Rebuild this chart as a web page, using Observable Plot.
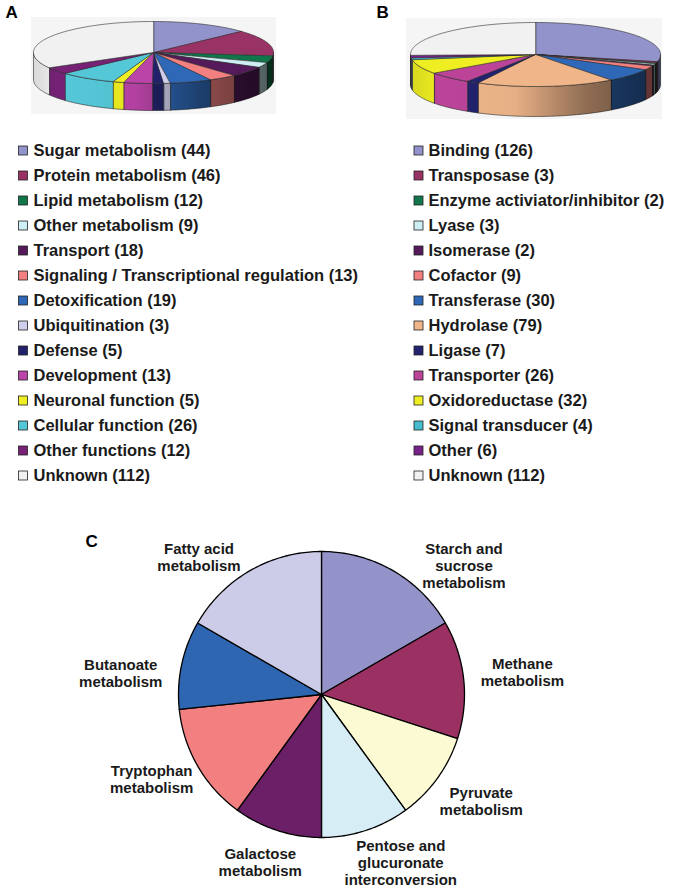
<!DOCTYPE html>
<html><head><meta charset="utf-8">
<script src="https://cdn.jsdelivr.net/npm/d3@7"></script>
<script src="https://cdn.jsdelivr.net/npm/@observablehq/plot@0.6"></script>
<style>body{margin:0;background:#fff;}</style>
</head><body><div id="chart"></div>
<script>
// ---------- DATA ----------
const catsA = ["Sugar metabolism","Protein metabolism","Lipid metabolism","Other metabolism","Transport","Signaling / Transcriptional regulation","Detoxification","Ubiquitination","Defense","Development","Neuronal function","Cellular function","Other functions","Unknown"];
const valsA = [44,46,12,9,18,13,19,3,5,13,5,26,12,112];
const catsB = ["Binding","Transposase","Enzyme activiator/inhibitor","Lyase","Isomerase","Cofactor","Transferase","Hydrolase","Ligase","Transporter","Oxidoreductase","Signal transducer","Other","Unknown"];
const valsB = [126,3,2,3,2,9,30,79,7,26,32,4,6,112];
const catsC = ["Starch and\nsucrose\nmetabolism","Methane\nmetabolism","Pyruvate\nmetabolism","Pentose and\nglucuronate\ninterconversion","Galactose\nmetabolism","Tryptophan\nmetabolism","Butanoate\nmetabolism","Fatty acid\nmetabolism"];
const valsC = [5,4,3,3,3,4,3,5];

// ---------- STYLE ----------
const colorsA = ["#9393cc","#993366","#11774a","#cdeef2","#551a5a","#f38080","#2f68b6","#cfcfec","#22226a","#bb44a8","#eeee22","#55c8d8","#772277","#f1f1f1"];
const colorsB = ["#9393cc","#993366","#11774a","#cdeef2","#551a5a","#f38080","#2f68b6","#f0b68a","#22226e","#bb4499","#eeee22","#44bccc","#772288","#f1f1f1"];
const colorsC = ["#9393c9","#9b3163","#fbfad2","#d7edf6","#6a1f66","#f28080","#2e66b1","#cdcce8"];

const W = 674, H = 889;
const pieA = {cx:153, cy:52, rx:120, ry:31, depth:27, bg:[31,17,276,114]};
const pieB = {cx:535, cy:54, rx:125, ry:32, depth:30, bg:[406,18,662,119]};
const pieC = {cx:321, cy:694, r:143};
const legendA = {sx:18.5, tx:33, y0:150.5, dy:25};
const legendB = {sx:414, tx:428, y0:150.5, dy:25};
const labelDistC = 195;
const labelNudgeC = [[45,40],[7,-2],[2,-8],[19,-17],[-1,-18],[-1,-13],[-10,19],[-25,31]];
const FONT = "Liberation Sans, Arial, Helvetica, sans-serif";

// ---------- GEOMETRY ----------
const pie = d3.pie().sort(null).value(d => d);
function arcPts(cx, cy, rx, ry, a0, a1, off = 0) {
  const n = Math.max(2, Math.ceil((a1 - a0) * 180 / Math.PI) + 1);
  const p = [];
  for (let k = 0; k < n; k++) {
    const a = a0 + (a1 - a0) * k / (n - 1);
    p.push([cx + rx * Math.sin(a), cy - ry * Math.cos(a) + off]);
  }
  return p;
}
function pie3d(key, vals, colors, g) {
  const arcs = pie(vals);
  const tops = [], sides = [], band = [];
  arcs.forEach((a, i) => {
    const id = key + i;
    tops.push({id, x: g.cx, y: g.cy, c: colors[i]});
    arcPts(g.cx, g.cy, g.rx, g.ry, a.startAngle, a.endAngle).forEach(([x, y]) => tops.push({id, x, y, c: colors[i]}));
    const s0 = Math.max(a.startAngle, Math.PI / 2), s1 = Math.min(a.endAngle, 3 * Math.PI / 2);
    if (s1 > s0) {
      const up = arcPts(g.cx, g.cy, g.rx, g.ry, s0, s1);
      const dn = arcPts(g.cx, g.cy, g.rx, g.ry, s0, s1, g.depth).reverse();
      [...up, ...dn].forEach(([x, y]) => sides.push({id, x, y, c: colors[i]}));
    }
  });
  const up = arcPts(g.cx, g.cy, g.rx, g.ry, Math.PI / 2, 3 * Math.PI / 2);
  const dn = arcPts(g.cx, g.cy, g.rx, g.ry, Math.PI / 2, 3 * Math.PI / 2, g.depth).reverse();
  [...up, ...dn].forEach(([x, y]) => band.push({id: key, x, y}));
  return {tops, sides, band};
}
const A3 = pie3d("A", valsA, colorsA, pieA);
const B3 = pie3d("B", valsB, colorsB, pieB);

const arcsC = pie(valsC);
const polyC = [];
const labC = [];
arcsC.forEach((a, i) => {
  const id = "C" + i;
  polyC.push({id, x: pieC.cx, y: pieC.cy, c: colorsC[i]});
  arcPts(pieC.cx, pieC.cy, pieC.r, pieC.r, a.startAngle, a.endAngle).forEach(([x, y]) => polyC.push({id, x, y, c: colorsC[i]}));
  const m = (a.startAngle + a.endAngle) / 2;
  labC.push({t: catsC[i], x: pieC.cx + labelDistC * Math.sin(m) + labelNudgeC[i][0], y: pieC.cy - labelDistC * Math.cos(m) + labelNudgeC[i][1]});
});

const legA = catsA.map((n, i) => ({t: `${n} (${valsA[i]})`, c: colorsA[i], y: legendA.y0 + i * legendA.dy}));
const legB = catsB.map((n, i) => ({t: `${n} (${valsB[i]})`, c: colorsB[i], y: legendB.y0 + i * legendB.dy}));
const bgs = [pieA.bg, pieB.bg].map(b => ({x1: b[0], y1: b[1], x2: b[2], y2: b[3]}));
const letters = [{t: "A", x: 5, y: 12.5}, {t: "B", x: 376, y: 12.5}, {t: "C", x: 85, y: 541.5}];

const poly = (data, opts) => Plot.line(data, {x: "x", y: "y", z: "id", curve: "linear-closed", ...opts});

const chart = Plot.plot({
  width: W, height: H, margin: 0,
  x: {domain: [0, W], range: [0, W], axis: null},
  y: {domain: [0, H], range: [0, H], axis: null},
  color: {type: "identity"},
  style: {background: "#fff", fontFamily: FONT},
  marks: [
    Plot.rect(bgs, {x1: "x1", x2: "x2", y1: "y1", y2: "y2", fill: "#f5f5f5"}),
    poly(A3.sides, {fill: "c", stroke: "#2a2a2a", strokeWidth: 0.6}),
    poly(B3.sides, {fill: "c", stroke: "#2a2a2a", strokeWidth: 0.6}),
    poly(A3.band, {fill: "url(#sideShade)", stroke: "none"}),
    poly(B3.band, {fill: "url(#sideShade)", stroke: "none"}),
    poly(A3.tops, {fill: "c", stroke: "#2a2a2a", strokeWidth: 0.6}),
    poly(B3.tops, {fill: "c", stroke: "#2a2a2a", strokeWidth: 0.6}),
    poly(polyC, {fill: "c", stroke: "#000", strokeWidth: 1.3}),
    Plot.rect(legA, {x1: () => legendA.sx, x2: () => legendA.sx + 9, y1: d => d.y - 4.5, y2: d => d.y + 4.5, fill: "c", stroke: "#222", strokeWidth: 0.8}),
    Plot.rect(legB, {x1: () => legendB.sx, x2: () => legendB.sx + 9, y1: d => d.y - 4.5, y2: d => d.y + 4.5, fill: "c", stroke: "#222", strokeWidth: 0.8}),
    Plot.text(legA, {x: () => legendA.tx, y: "y", text: "t", textAnchor: "start", fontWeight: "bold", fontSize: 16.5, fontFamily: FONT, fill: "#1a1a1a"}),
    Plot.text(legB, {x: () => legendB.tx, y: "y", text: "t", textAnchor: "start", fontWeight: "bold", fontSize: 16.5, fontFamily: FONT, fill: "#1a1a1a"}),
    Plot.text(labC, {x: "x", y: "y", text: "t", textAnchor: "middle", lineAnchor: "middle", lineHeight: 1.13, fontWeight: "bold", fontSize: 15, fontFamily: FONT, fill: "#1a1a1a"}),
    Plot.text(letters, {x: "x", y: "y", text: "t", textAnchor: "start", fontWeight: "bold", fontSize: 17, fontFamily: FONT, fill: "#000"})
  ]
});
d3.select(chart).insert("defs", ":first-child").html(
  `<linearGradient id="sideShade" x1="0" x2="1" y1="0" y2="0">
     <stop offset="0" stop-color="#000" stop-opacity="0.10"/>
     <stop offset="0.12" stop-color="#000" stop-opacity="0"/>
     <stop offset="0.42" stop-color="#000" stop-opacity="0.04"/>
     <stop offset="0.7" stop-color="#000" stop-opacity="0.40"/>
     <stop offset="1" stop-color="#000" stop-opacity="0.62"/>
   </linearGradient>`);
document.getElementById("chart").appendChild(chart);
</script>
</body></html>
